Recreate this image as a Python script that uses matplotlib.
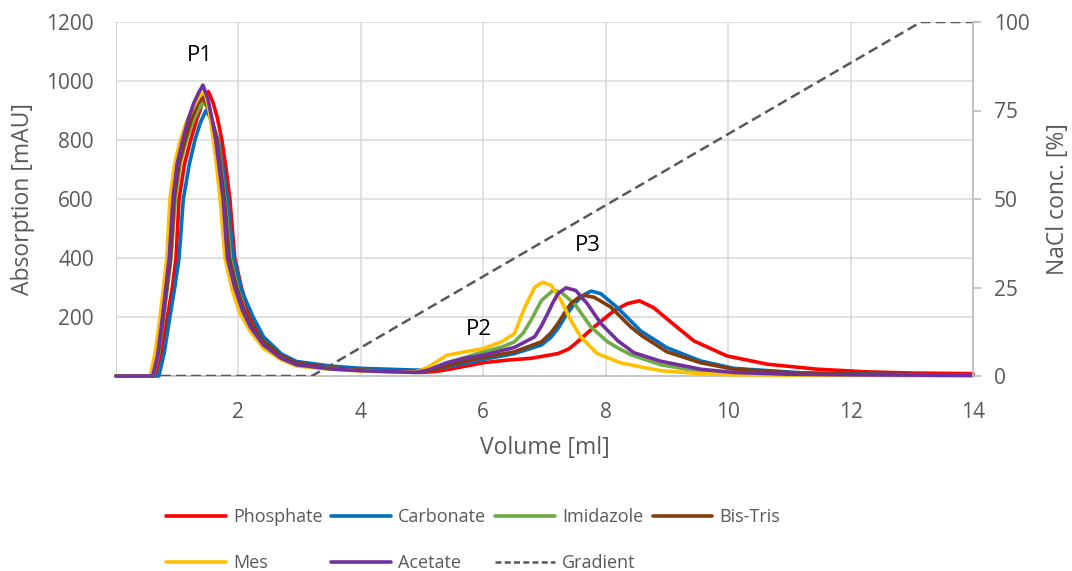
import matplotlib
matplotlib.use("Agg")
import matplotlib.pyplot as plt
from matplotlib.lines import Line2D

plt.rcParams['font.family'] = ['Open Sans', 'DejaVu Sans']

# chromatogram traces (volume in ml, absorption in mAU)
vol_phosphate = [0, 0.64, 0.74, 0.84, 0.92, 0.98, 1.03, 1.12, 1.22, 1.32, 1.42, 1.51, 1.58, 1.65, 1.73,
                 1.8, 1.86, 1.94, 2.05, 2.19, 2.41, 2.7, 2.95, 3.5, 4.0, 5.0, 5.25, 5.5, 5.75, 6.0, 6.4,
                 6.78, 7.22, 7.4, 7.54, 7.81, 8.14, 8.35, 8.55, 8.78, 9.11, 9.44, 9.98, 10.64, 11.46,
                 12.27, 13.0, 14.0]
abs_phosphate = [0, 0, 80, 200, 300, 400, 600, 720, 800, 870, 930, 964, 930, 880, 800,
                 700, 600, 400, 300, 200, 125, 70, 48, 32, 22, 12, 16, 25, 35, 45, 54,
                 60, 76, 92, 116, 166, 222, 245, 255, 232, 175, 119, 68, 40, 23,
                 14, 10, 8]

vol_carbonate = [0, 0.7, 0.79, 0.88, 0.96, 1.03, 1.1, 1.2, 1.29, 1.38, 1.47, 1.53, 1.6, 1.67, 1.75,
                 1.82, 1.92, 2.05, 2.24, 2.41, 2.7, 2.95, 3.5, 4.0, 4.9, 5.2, 5.5, 5.75, 6.0, 6.51,
                 6.95, 7.1, 7.22, 7.35, 7.49, 7.62, 7.76, 7.92, 8.19, 8.57, 9.0, 9.55, 10.09, 11.18,
                 12.8, 14]
abs_carbonate = [0, 0, 80, 200, 300, 400, 600, 720, 800, 860, 900, 880, 840, 800, 700,
                 600, 400, 290, 200, 133, 75, 49, 34, 26, 20, 22, 35, 45, 56, 76,
                 105, 130, 161, 205, 245, 272, 288, 279, 232, 153, 96, 51, 26, 11,
                 5, 3]

vol_imidazole = [0, 0.61, 0.7, 0.78, 0.84, 0.9, 0.97, 1.05, 1.15, 1.25, 1.35, 1.44, 1.52, 1.59, 1.66,
                 1.72, 1.78, 1.87, 1.98, 2.1, 2.25, 2.41, 2.7, 2.95, 3.5, 4.0, 4.6, 4.95, 5.2, 5.5,
                 5.75, 6.0, 6.3, 6.51, 6.65, 6.78, 6.95, 7.14, 7.27, 7.49, 7.76, 8.03, 8.2, 8.41,
                 8.9, 9.55, 10.09, 11, 12, 14]
abs_imidazole = [0, 0, 80, 200, 300, 400, 600, 720, 800, 860, 905, 930, 900, 850, 800,
                 700, 600, 400, 300, 220, 160, 115, 65, 42, 27, 19, 14, 12, 25, 50,
                 66, 82, 98, 116, 145, 189, 256, 290, 284, 245, 166, 116, 95, 72,
                 38, 15, 8, 5, 3, 2]

vol_bistris = [0, 0.6, 0.69, 0.77, 0.83, 0.89, 0.95, 1.03, 1.13, 1.23, 1.33, 1.42, 1.5, 1.58, 1.65,
               1.71, 1.77, 1.85, 1.97, 2.1, 2.25, 2.41, 2.7, 2.95, 3.5, 4.0, 4.6, 4.95, 5.2, 5.5,
               5.75, 6.0, 6.51, 6.95, 7.1, 7.22, 7.33, 7.43, 7.55, 7.65, 7.81, 8.08, 8.41, 8.6,
               9.0, 9.55, 10.09, 11.18, 12.5, 14]
abs_bistris = [0, 0, 80, 200, 300, 400, 600, 720, 800, 870, 920, 947, 910, 860, 800,
               700, 600, 400, 300, 220, 160, 118, 68, 44, 28, 20, 15, 13, 22, 40,
               52, 63, 82, 116, 145, 178, 215, 245, 265, 273, 267, 234, 166, 135,
               82, 45, 23, 9, 5, 3]

vol_mes = [0, 0.56, 0.64, 0.72, 0.78, 0.83, 0.88, 0.96, 1.05, 1.15, 1.25, 1.35, 1.45, 1.52, 1.59,
           1.65, 1.7, 1.78, 1.9, 2.03, 2.2, 2.41, 2.7, 2.95, 3.5, 4.0, 4.6, 4.9, 5.1, 5.4,
           5.7, 6.0, 6.3, 6.51, 6.68, 6.84, 6.97, 7.11, 7.27, 7.43, 7.59, 7.86, 8.24, 8.57,
           8.9, 9.55, 10.1, 11, 12, 14]
abs_mes = [0, 0, 80, 200, 310, 400, 600, 720, 800, 860, 905, 945, 965, 900, 800,
           700, 600, 400, 290, 210, 150, 94, 55, 34, 23, 17, 13, 14, 30, 70,
           82, 93, 116, 144, 234, 301, 318, 307, 256, 189, 133, 76, 45, 31,
           18, 8, 4, 3, 2, 1]

vol_acetate = [0, 0.6, 0.68, 0.76, 0.82, 0.87, 0.93, 1.0, 1.09, 1.18, 1.27, 1.35, 1.42, 1.5, 1.57,
               1.63, 1.69, 1.75, 1.82, 1.94, 2.07, 2.2, 2.41, 2.7, 2.95, 3.5, 4.0, 4.6, 4.9, 5.1,
               5.4, 5.7, 6.0, 6.51, 6.84, 6.95, 7.05, 7.14, 7.22, 7.35, 7.51, 7.7, 7.92, 8.2,
               8.46, 8.9, 9.55, 10.09, 11, 12, 14]
abs_acetate = [0, 0, 70, 200, 310, 400, 600, 720, 800, 870, 925, 960, 986, 940, 870,
               800, 700, 600, 400, 300, 220, 165, 105, 60, 38, 24, 18, 14, 12, 20,
               45, 60, 71, 97, 133, 170, 211, 250, 279, 299, 290, 245, 178, 119,
               79, 50, 23, 12, 6, 4, 2]

# NaCl gradient (right axis, %)
vol_gradient = [0, 3.2, 13.15, 14]
nacl_gradient = [0, 0, 100, 100]

buffers = ['Phosphate', 'Carbonate', 'Imidazole', 'Bis-Tris', 'Mes', 'Acetate']
colors = ['#FF0000', '#0070C0', '#70AD47', '#843C0C', '#FFC000', '#7030A0']
traces = [(vol_phosphate, abs_phosphate), (vol_carbonate, abs_carbonate),
          (vol_imidazole, abs_imidazole), (vol_bistris, abs_bistris),
          (vol_mes, abs_mes), (vol_acetate, abs_acetate)]

peak_labels = ['P1', 'P2', 'P3']
peak_pos = [(1.37, 1088), (5.92, 156), (7.71, 444)]

grey_txt = '#595959'
fs = 15

fig = plt.figure(figsize=(10.72, 5.71), dpi=100)
ax = fig.add_axes([116/1072, 1 - 376/571, 857/1072, 354/571])

handles = []
for name, col, (xv, yv) in zip(buffers, colors, traces):
    h, = ax.plot(xv, yv, color=col, lw=2.6, label=name, solid_capstyle='round',
                 solid_joinstyle='round', clip_on=False, zorder=3)
    handles.append(h)

ax.set_xlim(0, 14)
ax.set_ylim(0, 1200)
ax.set_xticks(range(2, 15, 2))
ax.set_yticks(range(200, 1201, 200))
ax.grid(True, color='#d9d9d9', lw=1.1)
ax.set_axisbelow(True)
for s in ['top', 'right']:
    ax.spines[s].set_visible(False)
ax.spines['left'].set_color('#d0d0d0')
ax.spines['bottom'].set_color('#bfbfbf')
ax.spines['bottom'].set_linewidth(1.3)
ax.tick_params(axis='both', length=0, labelsize=fs, labelcolor=grey_txt)
ax.tick_params(axis='x', pad=19)
ax.tick_params(axis='y', pad=16)
ax.set_xlabel('Volume [ml]', fontsize=16.5, color=grey_txt, labelpad=9)
ax.set_ylabel('Absorption [mAU]', fontsize=16.5, color=grey_txt, labelpad=8)

for lab, (px, py) in zip(peak_labels, peak_pos):
    ax.text(px, py, lab, fontsize=16, color='black', ha='center', va='center')

ax2 = ax.twinx()
ax2.plot(vol_gradient, nacl_gradient, color=grey_txt, lw=1.8, ls=(0, (4, 2)))
ax2.set_ylim(0, 100)
ax2.set_yticks(range(0, 101, 25))
for s in ['top', 'left', 'bottom']:
    ax2.spines[s].set_visible(False)
ax2.spines['right'].set_color('#bfbfbf')
ax2.spines['right'].set_linewidth(1.3)
ax2.tick_params(axis='y', length=6, color='#bfbfbf', width=1.3, labelsize=fs, labelcolor=grey_txt, pad=9)
ax2.set_ylabel('NaCl conc. [%]', fontsize=16.5, color=grey_txt, labelpad=12)

# legend swatch for the gradient uses shorter dashes, like the original
g = Line2D([], [], color=grey_txt, lw=1.8, ls=(0, (2.4, 1.3)), label='Gradient')

# legend fills column-wise, so order entries to get two rows as in the original
order = [handles[0], handles[4], handles[1], handles[5], handles[2], g, handles[3]]
fig.legend(handles=order, labels=[h.get_label() for h in order], ncol=4, frameon=False,
           loc='upper left', bbox_to_anchor=(166/1072, 1 - 508/571), borderpad=0, borderaxespad=0,
           fontsize=13, handlelength=3.3, handletextpad=0.4, columnspacing=0.5, labelspacing=1.55,
           labelcolor=grey_txt)

fig.savefig('out.png', dpi=100)
